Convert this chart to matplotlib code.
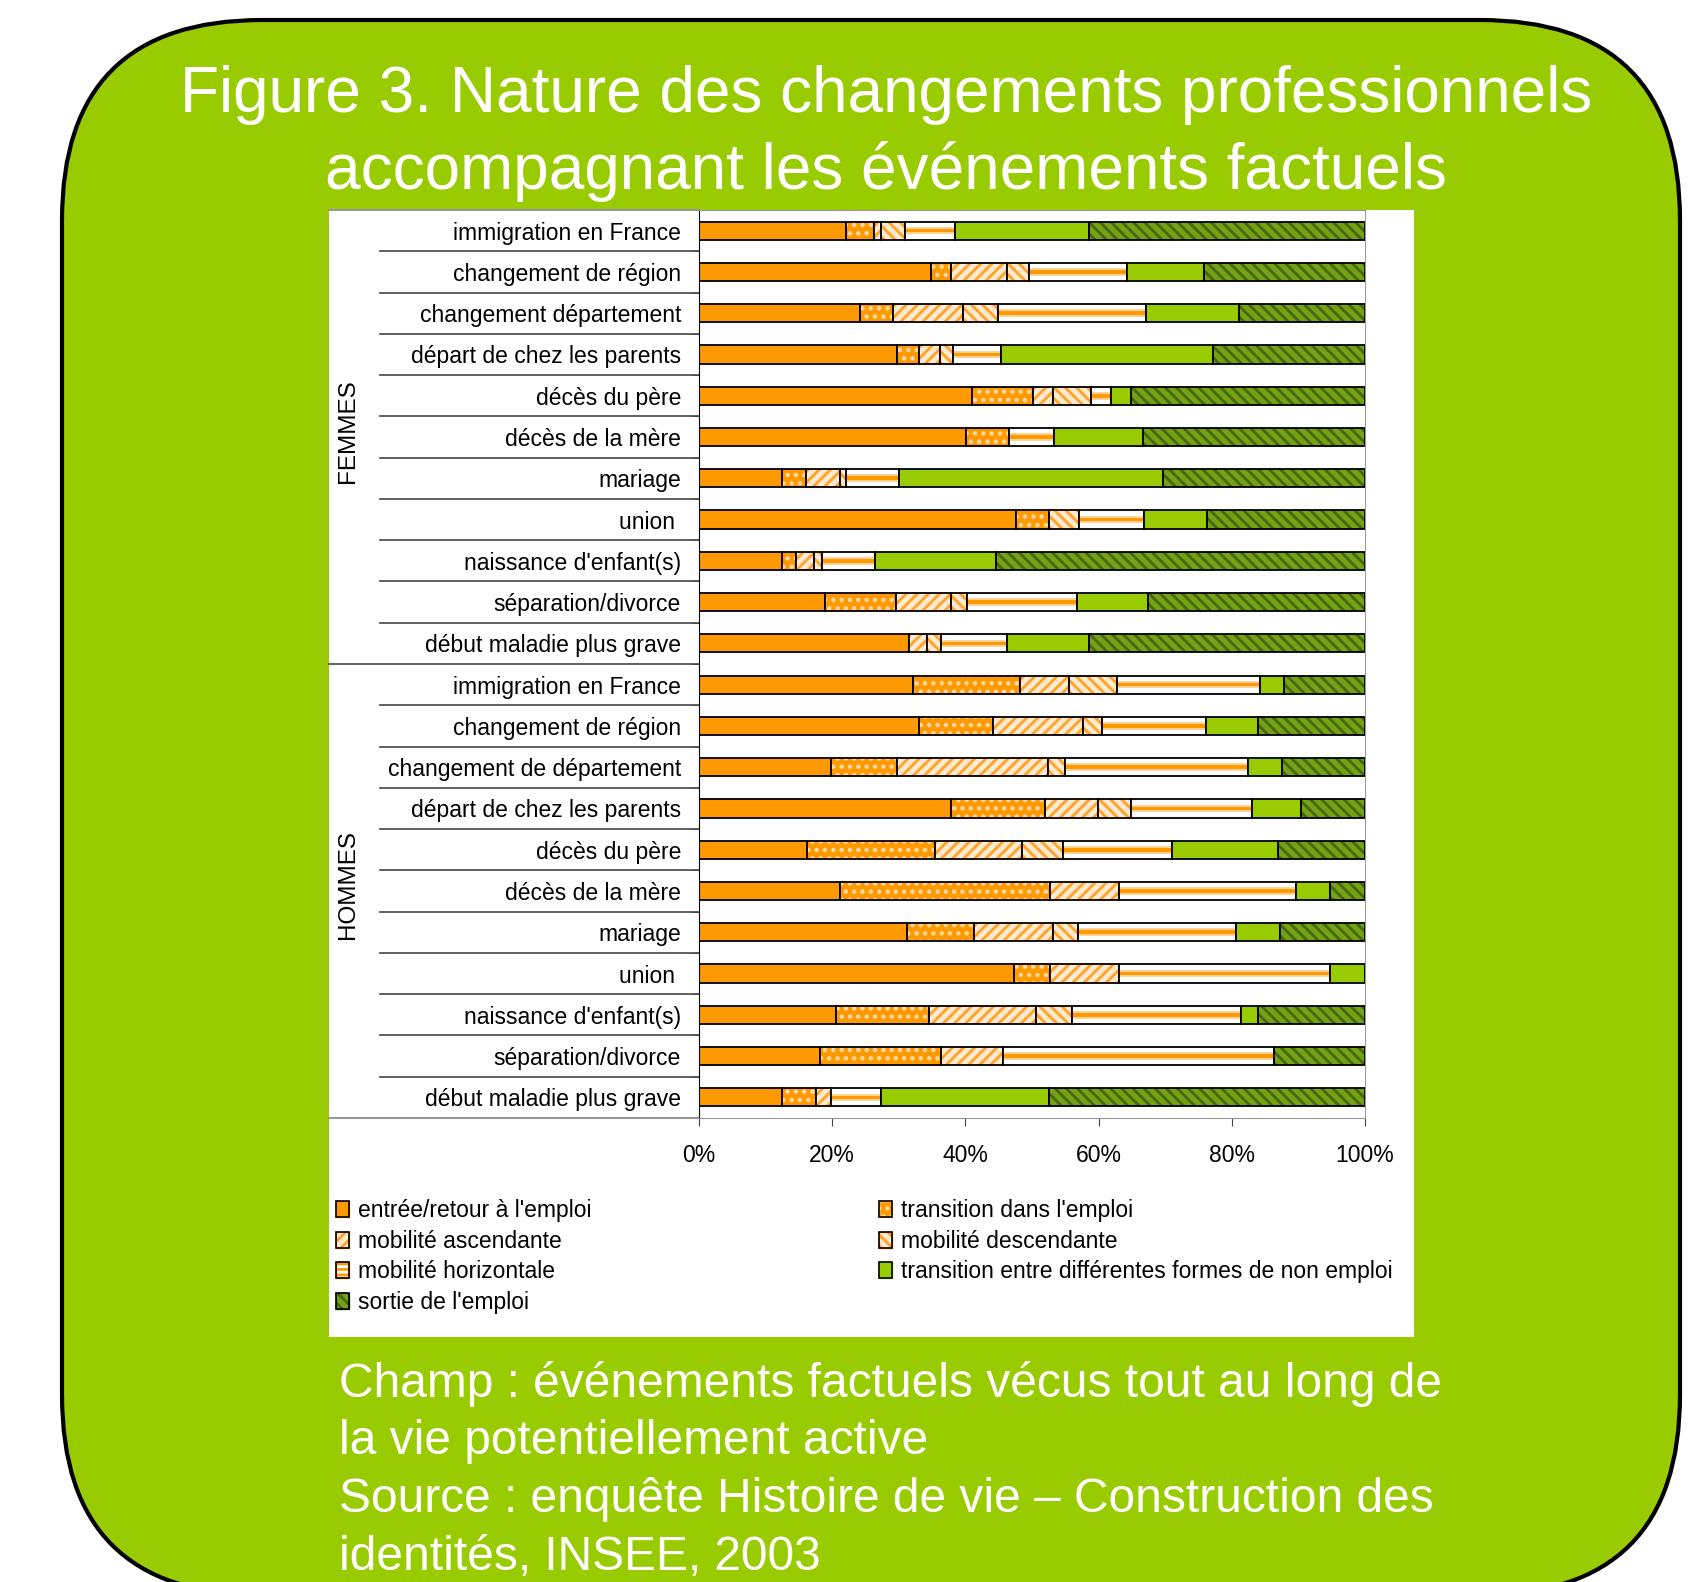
import matplotlib
matplotlib.use('Agg')
import matplotlib.pyplot as plt
import numpy as np
from matplotlib.patches import FancyBboxPatch, Rectangle, Patch
from matplotlib.legend_handler import HandlerTuple

plt.rcParams['font.family'] = ['Liberation Sans', 'DejaVu Sans']
plt.rcParams['hatch.linewidth'] = 2.0

events_f = ['immigration en France', 'changement de région', 'changement département',
            'départ de chez les parents', 'décès du père', 'décès de la mère', 'mariage',
            'union ', "naissance d'enfant(s)", 'séparation/divorce', 'début maladie plus grave']
events_h = ['immigration en France', 'changement de région', 'changement de département',
            'départ de chez les parents', 'décès du père', 'décès de la mère', 'mariage',
            'union ', "naissance d'enfant(s)", 'séparation/divorce', 'début maladie plus grave']
labels = events_f + events_h

series_names = ["entrée/retour à l'emploi", "transition dans l'emploi", 'mobilité ascendante',
                'mobilité descendante', 'mobilité horizontale',
                'transition entre différentes formes de non emploi', "sortie de l'emploi"]

# percentages, femmes (11 rows) then hommes (11 rows)
entree = [22.1, 34.9, 24.1, 29.7, 41.0, 40.1, 12.4, 47.6, 12.4, 18.9, 31.5,
          32.2, 33.1, 19.8, 37.8, 16.2, 21.2, 31.3, 47.3, 20.5, 18.2, 12.4]
transition = [4.2, 2.9, 5.1, 3.4, 9.1, 6.4, 3.6, 4.9, 2.2, 10.7, 0.0,
              16.0, 11.1, 10.0, 14.2, 19.2, 31.5, 10.0, 5.4, 14.0, 18.2, 5.2]
ascendante = [1.0, 8.4, 10.5, 3.1, 3.0, 0.0, 5.1, 0.0, 2.7, 8.2, 2.7,
              7.4, 13.4, 22.6, 7.9, 13.1, 10.4, 11.8, 10.4, 16.1, 9.2, 2.2]
descendante = [3.6, 3.3, 5.2, 1.9, 5.8, 0.0, 0.9, 4.5, 1.2, 2.5, 2.2,
               7.2, 2.9, 2.6, 4.9, 6.2, 0.0, 3.8, 0.0, 5.4, 0.0, 0.0]
horizontale = [7.5, 14.7, 22.2, 7.2, 2.9, 6.8, 8.0, 9.8, 7.9, 16.4, 9.8,
               21.5, 15.7, 27.4, 18.2, 16.3, 26.5, 23.8, 31.7, 25.4, 40.7, 7.6]
non_emploi = [20.1, 11.7, 14.0, 31.9, 3.0, 13.4, 39.7, 9.5, 18.2, 10.7, 12.3,
              3.6, 7.8, 5.2, 7.4, 15.9, 5.2, 6.6, 5.2, 2.6, 0.0, 25.1]
sortie = [41.5, 24.1, 18.9, 22.8, 35.2, 33.3, 30.3, 23.7, 55.4, 32.6, 41.5,
          12.1, 16.0, 12.4, 9.6, 13.1, 5.2, 12.7, 0.0, 16.0, 13.7, 47.5]

series = [entree, transition, ascendante, descendante, horizontale, non_emploi, sortie]
# (facecolor, hatch, hatch colour)
styles = [('#FF9900', None, '#FF9900'),
          ('#FF9900', '..', '#FFD9A6'),
          ('#FFE9CF', '///', '#FFA226'),
          ('#FFE9CF', '\\\\\\', '#FFA226'),
          ('#FFFFFF', None, '#FFFFFF'),
          ('#99CC00', None, '#99CC00'),
          ('#74A214', '\\\\\\', '#46680A')]

W, H = 1705, 1582
fig = plt.figure(figsize=(W / 100, H / 100), dpi=100)

bg = fig.add_axes([0, 0, 1, 1])
bg.set_xlim(0, W)
bg.set_ylim(H, 0)
bg.axis('off')
bg.add_patch(FancyBboxPatch((62, 20), 1618, 1575, boxstyle='round,pad=0,rounding_size=200',
                            fc='#99CC00', ec='black', lw=3))
bg.add_patch(Rectangle((329, 210), 1085, 1127, fc='white', ec='none'))
bg.text(886, 95, 'Figure 3. Nature des changements professionnels', ha='center', va='center',
        fontsize=46, color='white')
bg.text(886, 171, 'accompagnant les événements factuels', ha='center', va='center',
        fontsize=46, color='white')
footer = ['Champ : événements factuels vécus tout au long de',
          'la vie potentiellement active',
          'Source : enquête Histoire de vie \u2013 Construction des',
          'identités, INSEE, 2003']
for i, line in enumerate(footer):
    bg.text(339, 1384 + 58 * i, line, ha='left', va='center', fontsize=34.5, color='white')

ax = fig.add_axes([699 / W, 1 - 1118 / H, 666 / W, 908 / H])
ax.set_facecolor('none')
y = np.arange(len(labels))
h = 0.44
left = np.zeros(len(labels))
handles = []
for name, vals, (fc, hatch, hc) in zip(series_names, series, styles):
    vals = np.array(vals)
    ax.barh(y, vals, left=left, height=h, color=fc, hatch=hatch, edgecolor=hc, linewidth=0)
    if name == 'mobilité horizontale':
        ax.barh(y, vals, left=left, height=h * 0.42, color='#FFD29A', linewidth=0)
        ax.barh(y, vals, left=left, height=h * 0.2, color='#FF9900', linewidth=0)
        leg_fill = Patch(facecolor='white', hatch='---', edgecolor='#FF9900')
    else:
        leg_fill = Patch(facecolor=fc, hatch=hatch, edgecolor=hc)
    ax.barh(y, vals, left=left, height=h, fill=False, edgecolor='black', linewidth=1.3)
    left += vals
    handles.append((leg_fill, Patch(fill=False, edgecolor='black', linewidth=1.2)))

ax.set_xlim(0, 100)
ax.set_ylim(len(labels) - 0.5, -0.5)
ax.set_yticks(y)
ax.set_yticklabels(labels, fontsize=16.5)
ax.set_yticks(np.arange(-0.5, len(labels), 1), minor=True)
ax.tick_params(axis='y', which='major', length=0, pad=13)
ax.tick_params(axis='y', which='minor', length=5, color='#444444')
ax.set_xticks([0, 20, 40, 60, 80, 100])
ax.set_xticklabels(['0%', '20%', '40%', '60%', '80%', '100%'], fontsize=16.5)
ax.tick_params(axis='x', length=6, pad=13, color='#444444')
for s in ['top', 'right', 'bottom']:
    ax.spines[s].set_color('#999999')
ax.spines['left'].set_color('black')

# category separator lines and group labels
yt = ax.get_yaxis_transform()
for k in range(len(labels) - 1):
    x0 = -0.556 if k == 10 else -0.479
    ax.plot([x0, 0], [k + 0.5, k + 0.5], transform=yt, clip_on=False, color='#444444', lw=1.2)
for yy in [-0.5, len(labels) - 0.5]:
    ax.plot([-0.556, 0], [yy, yy], transform=yt, clip_on=False, color='#999999', lw=1.5)
ax.text(-0.527, 4.85, 'FEMMES', rotation=90, transform=yt, ha='center', va='center', fontsize=17.5)
ax.text(-0.527, 15.85, 'HOMMES', rotation=90, transform=yt, ha='center', va='center', fontsize=17.5)

order1 = [0, 2, 4, 6]
order2 = [1, 3, 5]
common = dict(frameon=False, fontsize=16.5, handlelength=0.55, handleheight=0.7,
              handletextpad=0.4, labelspacing=0.33, borderpad=0, borderaxespad=0,
              loc='upper left', handler_map={tuple: HandlerTuple(ndivide=1)},
              bbox_transform=bg.transData)
leg1 = bg.legend([handles[i] for i in order1], [series_names[i] for i in order1],
                 bbox_to_anchor=(336, 1199), **common)
bg.add_artist(leg1)
bg.legend([handles[i] for i in order2], [series_names[i] for i in order2],
          bbox_to_anchor=(879, 1199), **common)

fig.savefig('out.png', dpi=100)
